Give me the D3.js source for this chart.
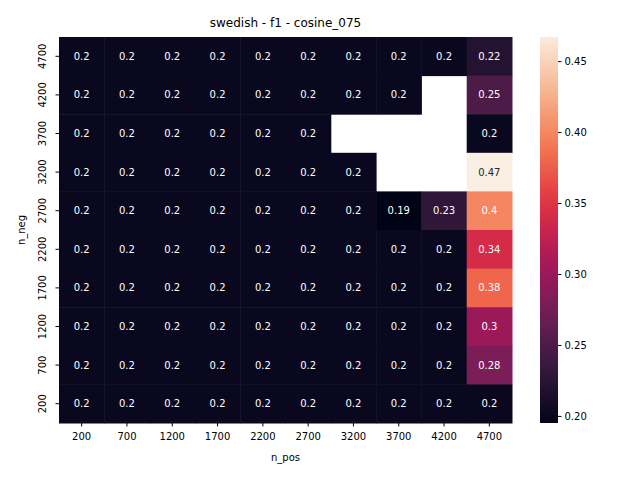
<!DOCTYPE html>
<meta charset="utf-8">
<script src="https://d3js.org/d3.v7.min.js"></script>
<style>body{margin:0;background:#fff}svg{font-family:"DejaVu Sans",sans-serif}</style>
<div id="chart"></div>
<script>
var nPos = [200, 700, 1200, 1700, 2200, 2700, 3200, 3700, 4200, 4700];
var nNeg = [4700, 4200, 3700, 3200, 2700, 2200, 1700, 1200, 700, 200];
var values = [
  [0.2,0.2,0.2,0.2,0.2,0.2,0.2,0.2,0.2,0.22],
  [0.2,0.2,0.2,0.2,0.2,0.2,0.2,0.2,null,0.25],
  [0.2,0.2,0.2,0.2,0.2,0.2,null,null,null,0.2],
  [0.2,0.2,0.2,0.2,0.2,0.2,0.2,null,null,0.47],
  [0.2,0.2,0.2,0.2,0.2,0.2,0.2,0.19,0.23,0.4],
  [0.2,0.2,0.2,0.2,0.2,0.2,0.2,0.2,0.2,0.34],
  [0.2,0.2,0.2,0.2,0.2,0.2,0.2,0.2,0.2,0.38],
  [0.2,0.2,0.2,0.2,0.2,0.2,0.2,0.2,0.2,0.3],
  [0.2,0.2,0.2,0.2,0.2,0.2,0.2,0.2,0.2,0.28],
  [0.2,0.2,0.2,0.2,0.2,0.2,0.2,0.2,0.2,0.2]
];
var cbTicks = [0.20, 0.25, 0.30, 0.35, 0.40, 0.45];
var vmin = 0.195, vmax = 0.467;

// rocket-ish colormap
var rocketStops = ["#03051a","#35193e","#701f57","#ad1759","#e13342","#f37651","#f6b48f","#faebdd"];
var rocket = d3.scaleLinear()
  .domain(rocketStops.map((d, i) => i / (rocketStops.length - 1)))
  .range(rocketStops).interpolate(d3.interpolateRgb);
var color = v => rocket((v - vmin) / (vmax - vmin));

var mLeft = 59, mTop = 37, w = 453, h = 386;
var svg = d3.select("#chart").append("svg").attr("width", 640).attr("height", 480);

var x = d3.scaleBand().domain(nPos).range([mLeft, mLeft + w]);
var y = d3.scaleBand().domain(nNeg).range([mTop, mTop + h]);

nNeg.forEach(function(r, i) {
  nPos.forEach(function(c, j) {
    var v = values[i][j];
    if (v === null) return;
    var col = d3.rgb(color(v));
    svg.append("rect").attr("x", x(c)).attr("y", y(r))
      .attr("width", x.bandwidth() + 0.5).attr("height", y.bandwidth() + 0.5)
      .attr("fill", col);
    var lum = [col.r, col.g, col.b].map(function(u) { u /= 255; return u <= 0.03928 ? u / 12.92 : Math.pow((u + 0.055) / 1.055, 2.4); });
    var L = 0.2126 * lum[0] + 0.7152 * lum[1] + 0.0722 * lum[2];
    svg.append("text").attr("x", x(c) + x.bandwidth() / 2).attr("y", y(r) + y.bandwidth() / 2)
      .attr("text-anchor", "middle").attr("dy", "0.35em").attr("font-size", 10)
      .attr("fill", L > 0.408 ? "#262626" : "#fff").text(String(v));
  });
});

svg.append("g").attr("transform", "translate(0," + (mTop + h) + ")")
  .call(d3.axisBottom(x).tickSizeOuter(0).tickSize(3.5))
  .call(g => g.select(".domain").remove())
  .selectAll("text").attr("font-size", 10).attr("font-family", "DejaVu Sans").attr("fill", "#000").attr("dy", "1em");
var ya = svg.append("g").attr("transform", "translate(" + mLeft + ",0)")
  .call(d3.axisLeft(y).tickSizeOuter(0).tickSize(3.5))
  .call(g => g.select(".domain").remove());
ya.selectAll("text").attr("font-size", 10).attr("font-family", "DejaVu Sans").attr("fill", "#000")
  .attr("transform", "rotate(-90)").attr("x", 0).attr("y", -13).attr("dy", "0").attr("text-anchor", "middle");

svg.append("text").attr("x", mLeft + w / 2).attr("y", 461).attr("text-anchor", "middle").attr("font-size", 10).text("n_pos");
svg.append("text").attr("transform", "translate(25," + (mTop + h / 2) + ") rotate(-90)").attr("text-anchor", "middle").attr("font-size", 10).text("n_neg");
svg.append("text").attr("x", mLeft + w / 2).attr("y", 27).attr("text-anchor", "middle").attr("font-size", 12).text("swedish - f1 - cosine_075");

// colorbar
var cbx = 540, cbw = 18;
var cy = d3.scaleLinear().domain([vmin, vmax]).range([mTop + h, mTop]);
var defs = svg.append("defs");
var grad = defs.append("linearGradient").attr("id", "cb").attr("x1", 0).attr("y1", 1).attr("x2", 0).attr("y2", 0);
d3.range(0, 1.001, 0.05).forEach(function(t) {
  grad.append("stop").attr("offset", t).attr("stop-color", rocket(t));
});
svg.append("rect").attr("x", cbx).attr("y", mTop).attr("width", cbw).attr("height", h).attr("fill", "url(#cb)");
svg.append("g").attr("transform", "translate(" + (cbx + cbw) + ",0)")
  .call(d3.axisRight(cy).tickValues(cbTicks).tickFormat(d3.format(".2f")).tickSize(3.5))
  .call(g => g.select(".domain").remove())
  .selectAll("text").attr("font-size", 10).attr("font-family", "DejaVu Sans").attr("fill", "#000");
</script>
